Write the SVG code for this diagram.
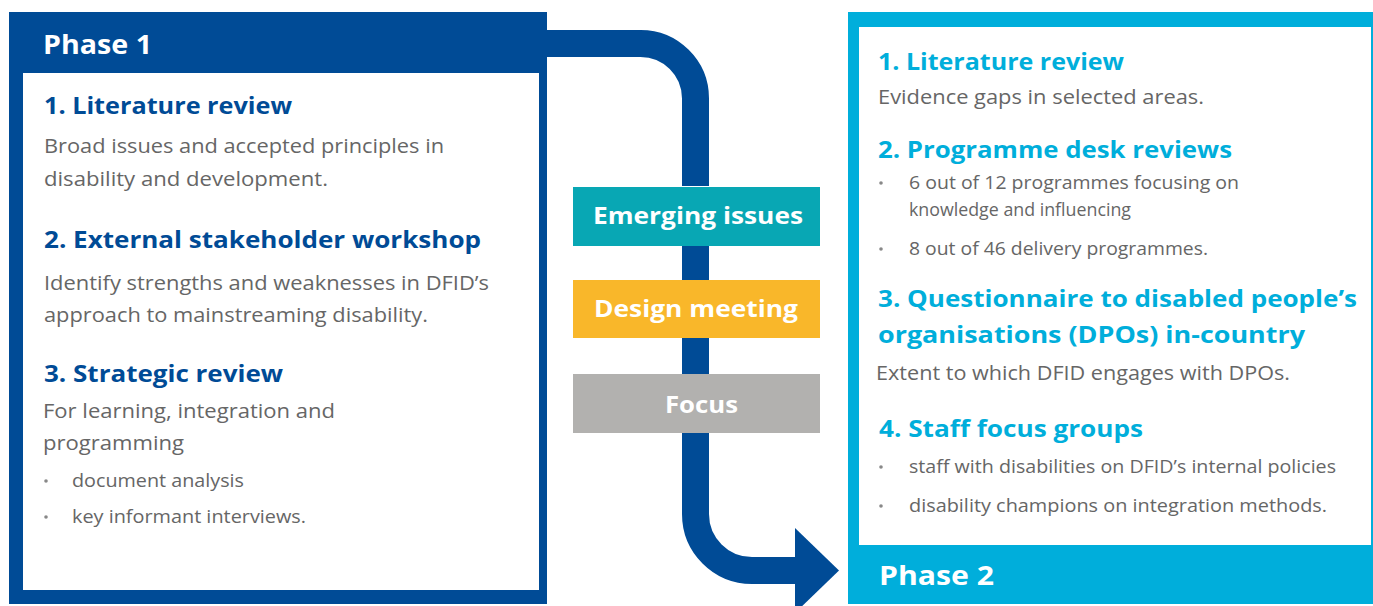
<svg xmlns="http://www.w3.org/2000/svg" width="1373" height="606" viewBox="0 0 1373 606">
  <style>
    text { font-family: "Open Sans", Lato, "Liberation Sans", sans-serif; }
    .phase { fill: #ffffff; font-size: 27px; font-weight: 700; }
    .h1 { fill: #004B96; font-size: 23.5px; font-weight: 700; }
    .h2 { fill: #00AEDB; font-size: 23.5px; font-weight: 700; }
    .body { fill: #666666; font-size: 19.5px; }
    .small { fill: #666666; font-size: 17.5px; }
    .dot { fill: #888888; }
    .step { fill: #ffffff; font-size: 23px; font-weight: 700; }
  </style>

  <rect width="1373" height="606" fill="#ffffff"/>

  <!-- connectors: the flow arrow from phase 1 through the steps to phase 2 -->
  <g id="connectors" fill="none" stroke="#004B96" stroke-width="27">
    <path d="M540 43.5 H640 A55 55 0 0 1 695.5 98.5 V186"/>
    <path d="M695.5 246 V280"/>
    <path d="M695.5 338 V374"/>
    <path d="M695.5 433 V514 A56.5 56.5 0 0 0 752 570.5 H800"/>
    <polygon points="795,528 839,570.5 795,613" fill="#004B96" stroke="none"/>
  </g>

  <!-- phase 1 -->
  <g id="phase1">
    <rect x="9" y="12" width="538" height="592" fill="#004B96"/>
    <rect x="23" y="73" width="516" height="517" fill="#ffffff"/>
    <text class="phase" x="43" y="54" textLength="109" lengthAdjust="spacingAndGlyphs">Phase 1</text>
    <text class="h1" x="44" y="114" textLength="248" lengthAdjust="spacingAndGlyphs">1. Literature review</text>
    <text class="body" x="44" y="153" textLength="400" lengthAdjust="spacingAndGlyphs">Broad issues and accepted principles in</text>
    <text class="body" x="44" y="186" textLength="284" lengthAdjust="spacingAndGlyphs">disability and development.</text>
    <text class="h1" x="44" y="248" textLength="437" lengthAdjust="spacingAndGlyphs">2. External stakeholder workshop</text>
    <text class="body" x="44" y="290" textLength="445" lengthAdjust="spacingAndGlyphs">Identify strengths and weaknesses in DFID’s</text>
    <text class="body" x="44" y="322" textLength="384" lengthAdjust="spacingAndGlyphs">approach to mainstreaming disability.</text>
    <text class="h1" x="44" y="382" textLength="239" lengthAdjust="spacingAndGlyphs">3. Strategic review</text>
    <text class="body" x="43" y="418" textLength="292" lengthAdjust="spacingAndGlyphs">For learning, integration and</text>
    <text class="body" x="43" y="450" textLength="141" lengthAdjust="spacingAndGlyphs">programming</text>
    <circle class="dot" cx="46" cy="481" r="1.8"/>
    <text class="small" x="72" y="487" textLength="172" lengthAdjust="spacingAndGlyphs">document analysis</text>
    <circle class="dot" cx="46" cy="517" r="1.8"/>
    <text class="small" x="72" y="523" textLength="234" lengthAdjust="spacingAndGlyphs">key informant interviews.</text>
  </g>

  <!-- intermediate steps -->
  <g id="emerging">
    <rect x="573" y="187" width="247" height="59" fill="#08A7B4"/>
    <text class="step" x="593" y="224" textLength="210" lengthAdjust="spacingAndGlyphs">Emerging issues</text>
  </g>
  <g id="design">
    <rect x="573" y="280" width="247" height="58" fill="#F9B72A"/>
    <text class="step" x="594" y="317" textLength="204" lengthAdjust="spacingAndGlyphs">Design meeting</text>
  </g>
  <g id="focus">
    <rect x="573" y="374" width="247" height="59" fill="#B2B1AF"/>
    <text class="step" x="665" y="413" textLength="73" lengthAdjust="spacingAndGlyphs">Focus</text>
  </g>

  <!-- phase 2 -->
  <g id="phase2">
    <rect x="848" y="12" width="525" height="592" fill="#00AEDB"/>
    <rect x="859" y="27" width="512" height="518" fill="#ffffff"/>
    <text class="phase" x="879" y="585" textLength="115" lengthAdjust="spacingAndGlyphs">Phase 2</text>
    <text class="h2" x="878" y="70" textLength="246" lengthAdjust="spacingAndGlyphs">1. Literature review</text>
    <text class="body" x="878" y="104" textLength="326" lengthAdjust="spacingAndGlyphs">Evidence gaps in selected areas.</text>
    <text class="h2" x="878" y="158" textLength="354" lengthAdjust="spacingAndGlyphs">2. Programme desk reviews</text>
    <circle class="dot" cx="881" cy="183" r="1.8"/>
    <text class="small" x="909" y="189" textLength="330" lengthAdjust="spacingAndGlyphs">6 out of 12 programmes focusing on</text>
    <text class="small" x="909" y="216" textLength="222" lengthAdjust="spacingAndGlyphs">knowledge and influencing</text>
    <circle class="dot" cx="881" cy="249" r="1.8"/>
    <text class="small" x="909" y="255" textLength="299" lengthAdjust="spacingAndGlyphs">8 out of 46 delivery programmes.</text>
    <text class="h2" x="878" y="307" textLength="479" lengthAdjust="spacingAndGlyphs">3. Questionnaire to disabled people’s</text>
    <text class="h2" x="878" y="343" textLength="427" lengthAdjust="spacingAndGlyphs">organisations (DPOs) in-country</text>
    <text class="body" x="876" y="380" textLength="414" lengthAdjust="spacingAndGlyphs">Extent to which DFID engages with DPOs.</text>
    <text class="h2" x="879" y="437" textLength="264" lengthAdjust="spacingAndGlyphs">4. Staff focus groups</text>
    <circle class="dot" cx="881" cy="467" r="1.8"/>
    <text class="small" x="909" y="473" textLength="427" lengthAdjust="spacingAndGlyphs">staff with disabilities on DFID’s internal policies</text>
    <circle class="dot" cx="881" cy="506" r="1.8"/>
    <text class="small" x="909" y="512" textLength="418" lengthAdjust="spacingAndGlyphs">disability champions on integration methods.</text>
  </g>
</svg>
